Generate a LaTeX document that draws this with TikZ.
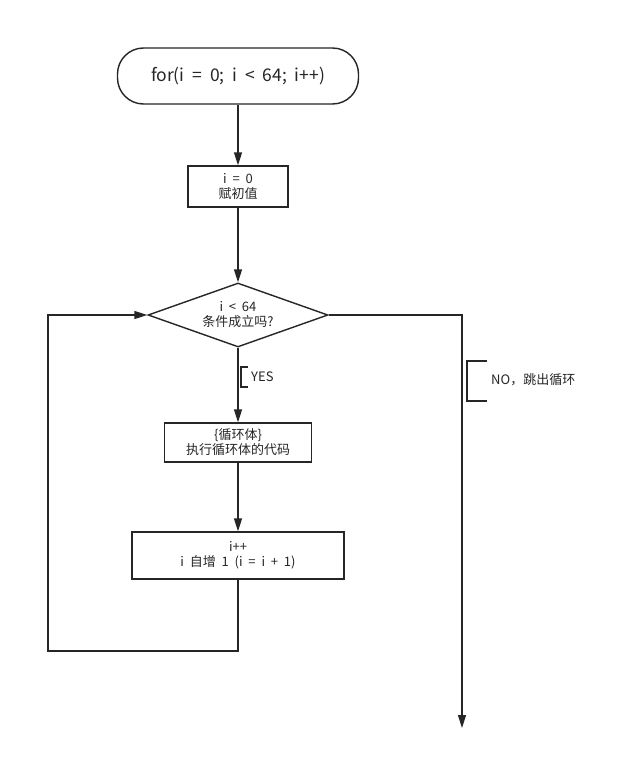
\documentclass[tikz,border=0pt]{standalone}
\usepackage{fontspec}
\setmainfont{Noto Sans CJK SC}
\usetikzlibrary{shapes.geometric,arrows.meta}
\begin{document}
\begin{tikzpicture}[x=1pt,y=-1pt,
  every node/.style={font=\fontsize{13}{15}\selectfont, text=black!85},
  box/.style={draw=black!85, line width=1.4pt, inner sep=0pt, align=center},
  conn/.style={draw=black!85, line width=1.4pt},
  arr/.style={conn, -{Triangle[length=13pt,width=8pt]}},
  brk/.style={draw=black!85, line width=1.2pt}]
\useasboundingbox (0,0) rectangle (618,760);
\fill[white] (0,0) rectangle (618,760);

\node[box, rounded corners=26pt, minimum width=241pt, minimum height=56pt,
      font=\fontsize{17.5}{19}\selectfont] (start) at (238,76)
      {for(i\ \ =\ \ 0;\ \ i\ \ <\ \ 64;\ \ i++)};
\node[box, minimum width=100pt, minimum height=41pt] (init) at (238,186.5)
      {i\ \ =\ \ 0\\赋初值};
\node[box, shape=diamond, minimum width=180pt, minimum height=64pt] (cond) at (238,315) {};
\node[align=center] (condtext) at (238,315) {i\ \ <\ \ 64\\条件成立吗?};
\node[box, minimum width=147pt, minimum height=39pt] (body) at (238,442.5)
      {\{循环体\}\\执行循环体的代码};
\node[box, minimum width=212pt, minimum height=47pt] (inc) at (238,555.5)
      {i++\\i\ \ 自增\ \ 1\ \ (i\ \ =\ \ i\ \ +\ \ 1)};

\coordinate (bl) at (238,651);
\coordinate (bll) at (48,651);
\coordinate (tl) at (48,315);
\coordinate (nr) at (462,315);
\coordinate (nend) at (462,728);

\draw[arr] (start.south) -- (init.north);
\draw[arr] (init.south) -- (cond.north);
\draw[arr] (cond.south) -- (body.north);
\draw[arr] (body.south) -- (inc.north);
\draw[arr] (inc.south) -- (bl) -- (bll) -- (tl) -- (cond.west);
\draw[arr] (cond.east) -- (nr) -- (nend);

\coordinate (y1) at (248,367);
\coordinate (y2) at (241,367);
\coordinate (y3) at (241,387);
\coordinate (y4) at (248,387);
\draw[brk] (y1) -- (y2) -- (y3) -- (y4);
\node[anchor=west, inner sep=0pt] (yes) at (251,377) {YES};

\coordinate (n1) at (487,361);
\coordinate (n2) at (467,361);
\coordinate (n3) at (467,401);
\coordinate (n4) at (487,401);
\draw[brk] (n1) -- (n2) -- (n3) -- (n4);
\node[anchor=west, inner sep=0pt] (no) at (491,380) {NO，跳出循环};
\end{tikzpicture}
\end{document}
